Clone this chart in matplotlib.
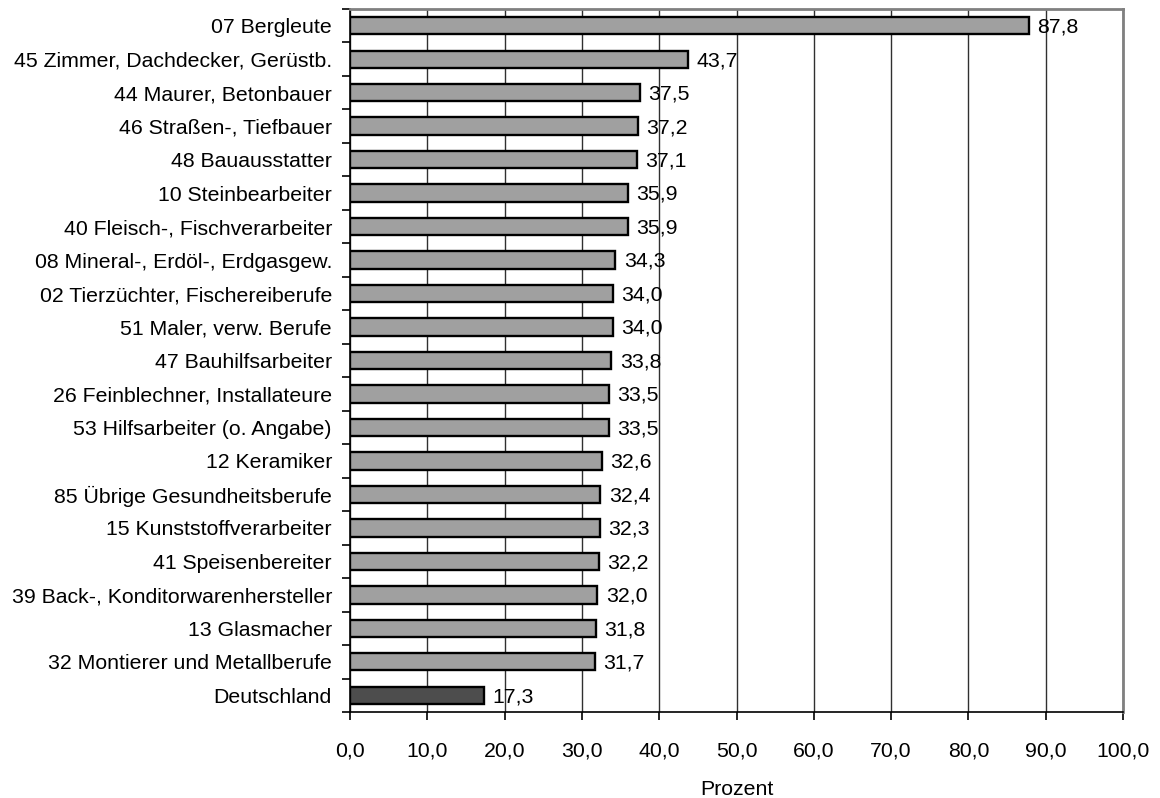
import matplotlib
matplotlib.use("Agg")
import matplotlib.pyplot as plt
import numpy as np
from matplotlib.ticker import FixedLocator, FuncFormatter

plt.rcParams['font.family'] = ['Liberation Sans', 'DejaVu Sans']

categories = [
    "07 Bergleute",
    "45 Zimmer, Dachdecker, Gerüstb.",
    "44 Maurer, Betonbauer",
    "46 Straßen-, Tiefbauer",
    "48 Bauausstatter",
    "10 Steinbearbeiter",
    "40 Fleisch-, Fischverarbeiter",
    "08 Mineral-, Erdöl-, Erdgasgew.",
    "02 Tierzüchter, Fischereiberufe",
    "51 Maler, verw. Berufe",
    "47 Bauhilfsarbeiter",
    "26 Feinblechner, Installateure",
    "53 Hilfsarbeiter (o. Angabe)",
    "12 Keramiker",
    "85 Übrige Gesundheitsberufe",
    "15 Kunststoffverarbeiter",
    "41 Speisenbereiter",
    "39 Back-, Konditorwarenhersteller",
    "13 Glasmacher",
    "32 Montierer und Metallberufe",
    "Deutschland",
]
values = [87.8, 43.7, 37.5, 37.2, 37.1, 35.9, 35.9, 34.3, 34.0, 34.0, 33.8,
          33.5, 33.5, 32.6, 32.4, 32.3, 32.2, 32.0, 31.8, 31.7, 17.3]
xticks = [0, 10, 20, 30, 40, 50, 60, 70, 80, 90, 100]

FS = 15.3

fig = plt.figure(figsize=(11.6, 7.98), dpi=100)
ax = fig.add_axes([350/1160, 1 - 712/798, (1123-350)/1160, (712-9)/798])

n = len(categories)
y = np.arange(n)
colors = ['#a0a0a0'] * (n - 1) + ['#4d4d4d']
ax.barh(y, values, height=0.52, color=colors, edgecolor='black', linewidth=1.7, zorder=3)
for yi, v in zip(y, values):
    ax.text(v + 1.1, yi + 0.04, f"{v:.1f}".replace('.', ','), va='center', ha='left',
            fontsize=FS, zorder=4)

ax.set_xlim(0, 100)
ax.set_ylim(n - 0.5, -0.5)
ax.set_xticks(xticks)
ax.xaxis.set_major_formatter(FuncFormatter(lambda v, p: f"{v:.1f}".replace('.', ',')))
ax.set_yticks(y)
ax.set_yticklabels(categories)
ax.yaxis.set_minor_locator(FixedLocator(np.arange(-0.5, n, 1.0)))
ax.tick_params(axis='y', which='major', length=0, pad=13, labelsize=FS)
ax.tick_params(axis='y', which='minor', length=6, width=1.2, color='black', direction='out')
ax.tick_params(axis='x', which='major', length=6, width=1.2, direction='out', pad=15, labelsize=FS)
ax.grid(axis='x', color='#303030', linewidth=1.0, zorder=0)
ax.set_axisbelow(True)
for s in ['top', 'right']:
    ax.spines[s].set_color('#808080')
    ax.spines[s].set_linewidth(2)
for s in ['left', 'bottom']:
    ax.spines[s].set_color('black')
    ax.spines[s].set_linewidth(1.2)
ax.set_xlabel("Prozent", fontsize=FS, labelpad=14)

fig.savefig("out.png", dpi=100)
